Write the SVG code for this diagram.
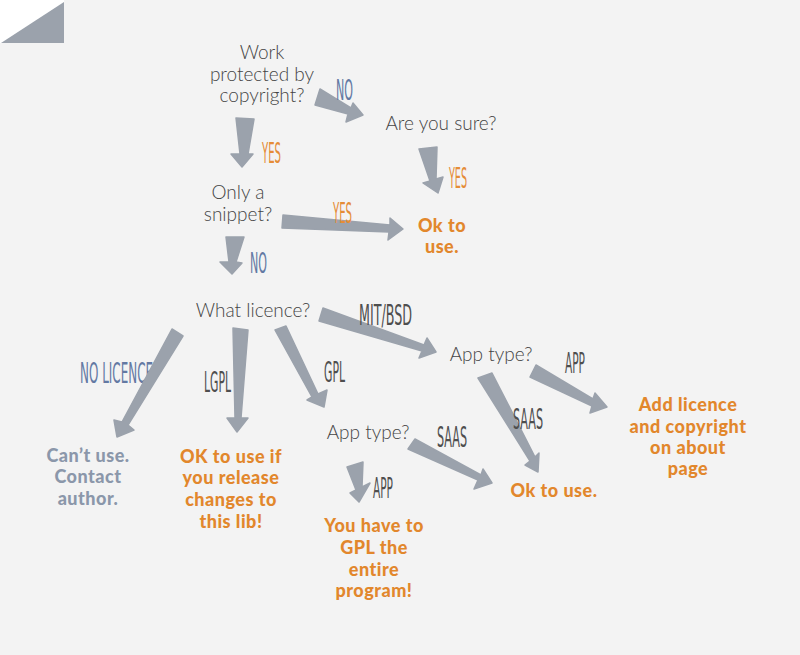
<svg xmlns="http://www.w3.org/2000/svg" width="800" height="655" viewBox="0 0 800 655">
<style>
.q{font-family:Lato,"Open Sans","Liberation Sans",sans-serif;font-weight:300;font-size:19px;fill:#454545;text-anchor:middle}
.o{font-family:Lato,"Open Sans","Liberation Sans",sans-serif;font-weight:900;font-size:18px;letter-spacing:0.5px;fill:#e2872c;text-anchor:middle}
.g{font-family:Lato,"Open Sans","Liberation Sans",sans-serif;font-weight:900;font-size:18px;letter-spacing:0.5px;fill:#8b97aa;text-anchor:middle}
.a{fill:#9ba2ac;stroke:#9ba2ac;stroke-width:1.5;stroke-linejoin:round}
.l{font-family:"DejaVu Sans","Liberation Sans",sans-serif;font-weight:400;font-size:28px}
.ly{fill:#e58c37}.ln{fill:#6379a3}.ld{fill:#4e4e4e}
</style>
<rect width="800" height="655" fill="#f3f3f3"/>
<rect x="0" y="0" width="64" height="43" fill="#ffffff"/>
<polygon points="1,43 64,2 64,43" fill="#9ba2ac"/>
<g id="connectors">
<polygon class="a" points="236,118 254,119 248,154 253,154 242,167 231,154 240,154"/>
<polygon class="a" points="320,89 351,108 353,103 363,115 346,122 348,114 315,105"/>
<polygon class="a" points="419,149 437,147 436,179 443,177 438,193 423,183 430,181"/>
<polygon class="a" points="283,215 390,225 390,218 403,229 388,240 389,232 282,228"/>
<polygon class="a" points="226,237 244,237 236,262 242,263 232,274 220,262 229,262"/>
<text class="l ln" transform="translate(80,383) scale(0.427,1)" x="0" y="0" textLength="171" lengthAdjust="spacingAndGlyphs">NO LICENCE</text>
<polygon class="a" points="172,329 183,336 128,425 134,430 117,437 114,420 122,422"/>
<polygon class="a" points="233,328 248,330 241,418 248,418 237,432 227,418 235,418"/>
<polygon class="a" points="275,330 286,326 318,394 327,390 324,407 307,400 312,397"/>
<polygon class="a" points="323,308 424,345 427,338 436,352 419,358 422,351 319,321"/>
<polygon class="a" points="347,467 363,462 362,487 370,483 359,502 350,493 356,490"/>
<polygon class="a" points="415,439 481,475 483,469 492,483 474,489 478,480 408,449"/>
<polygon class="a" points="478,378 492,373 535,457 539,453 538,472 525,465 530,461"/>
<polygon class="a" points="536,365 593,399 595,393 607,407 590,413 592,406 530,377"/>
<text class="l ln" x="336" y="100" textLength="17" lengthAdjust="spacingAndGlyphs">NO</text>
<text class="l ly" x="262" y="163" textLength="19" lengthAdjust="spacingAndGlyphs">YES</text>
<text class="l ly" x="449" y="188" textLength="18" lengthAdjust="spacingAndGlyphs">YES</text>
<text class="l ly" x="333" y="223" textLength="19" lengthAdjust="spacingAndGlyphs">YES</text>
<text class="l ln" x="250" y="273" textLength="17" lengthAdjust="spacingAndGlyphs">NO</text>
<text class="l ld" x="204" y="392" textLength="27" lengthAdjust="spacingAndGlyphs">LGPL</text>
<text class="l ld" x="324" y="382" textLength="21" lengthAdjust="spacingAndGlyphs">GPL</text>
<text class="l ld" x="359" y="325" textLength="53" lengthAdjust="spacingAndGlyphs">MIT/BSD</text>
<text class="l ld" x="373" y="498" textLength="20" lengthAdjust="spacingAndGlyphs">APP</text>
<text class="l ld" x="437" y="447" textLength="30" lengthAdjust="spacingAndGlyphs">SAAS</text>
<text class="l ld" x="513" y="429" textLength="30" lengthAdjust="spacingAndGlyphs">SAAS</text>
<text class="l ld" x="565" y="373" textLength="20" lengthAdjust="spacingAndGlyphs">APP</text>
</g>
<g id="q-copyright"><text class="q" x="262" y="59">Work</text><text class="q" x="262" y="81">protected by</text><text class="q" x="262" y="102">copyright?</text></g>
<g id="q-sure"><text class="q" x="441" y="130">Are you sure?</text></g>
<g id="q-snippet"><text class="q" x="238" y="199">Only a</text><text class="q" x="238" y="221">snippet?</text></g>
<g id="r-ok1"><text class="o" x="442" y="232">Ok to</text><text class="o" x="442" y="253">use.</text></g>
<g id="q-licence"><text class="q" x="253" y="317">What licence?</text></g>
<g id="r-cant"><text class="g" x="88" y="462">Can’t use.</text><text class="g" x="88" y="483">Contact</text><text class="g" x="88" y="505">author.</text></g>
<g id="r-lgpl"><text class="o" x="231" y="463">OK to use if</text><text class="o" x="231" y="484">you release</text><text class="o" x="231" y="506">changes to</text><text class="o" x="231" y="528">this lib!</text></g>
<g id="q-apptype-gpl"><text class="q" x="368" y="439">App type?</text></g>
<g id="r-gpl"><text class="o" x="374" y="532">You have to</text><text class="o" x="374" y="554">GPL the</text><text class="o" x="374" y="576">entire</text><text class="o" x="374" y="597">program!</text></g>
<g id="q-apptype-mit"><text class="q" x="491" y="361">App type?</text></g>
<g id="r-ok2"><text class="o" x="554" y="497">Ok to use.</text></g>
<g id="r-add"><text class="o" x="688" y="411">Add licence</text><text class="o" x="688" y="433">and copyright</text><text class="o" x="688" y="454">on about</text><text class="o" x="688" y="475">page</text></g>
</svg>
